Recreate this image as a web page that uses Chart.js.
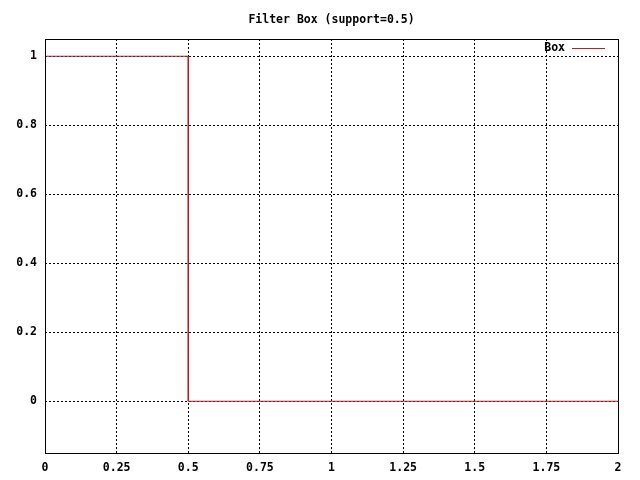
<!DOCTYPE html>
<html>
<head>
<meta charset="utf-8">
<script src="https://cdn.jsdelivr.net/npm/chart.js@4"></script>
<style>
    html, body { margin: 0; padding: 0; background: #fff; }
    #wrap { width: 640px; height: 480px; }
</style>
</head>
<body>
<div id="wrap"><canvas id="chart"></canvas></div>
<script>
var chartTitle = 'Filter Box (support=0.5)';
var seriesName = 'Box';
var boxX = [0, 0.5, 0.5, 2];
var boxY = [1, 1, 0, 0];
var xTicks = [0, 0.25, 0.5, 0.75, 1, 1.25, 1.5, 1.75, 2];
var yTicks = [0, 0.2, 0.4, 0.6, 0.8, 1];

var lineColor = '#c01c24';
var fontSpec = { family: '"DejaVu Sans Mono", monospace', size: 11.5, weight: 'bold' };

var points = boxX.map(function(x, i) {
    return { x: x, y: boxY[i] };
});

// border round the plot plus the legend in the top right corner
var framePlugin = {
    id: 'frame',
    afterDatasetsDraw: function(chart) {
        var ctx = chart.ctx;
        var a = chart.chartArea;
        ctx.save();
        ctx.strokeStyle = '#000';
        ctx.lineWidth = 1;
        ctx.strokeRect(Math.round(a.left) + 0.5, Math.round(a.top) + 0.5,
            Math.round(a.right - a.left), Math.round(a.bottom - a.top));

        ctx.font = 'bold 11.5px "DejaVu Sans Mono", monospace';
        ctx.fillStyle = '#000';
        ctx.textAlign = 'right';
        ctx.textBaseline = 'middle';
        var ly = Math.round(a.top + 9);
        var rx = Math.round(a.right);
        ctx.fillText(chart.data.datasets[0].label, rx - 53, ly);
        ctx.strokeStyle = lineColor;
        ctx.beginPath();
        ctx.moveTo(rx - 46, ly + 0.5);
        ctx.lineTo(rx - 13, ly + 0.5);
        ctx.stroke();
        ctx.restore();
    }
};

new Chart(document.getElementById('chart'), {
    type: 'line',
    data: {
        datasets: [{
            label: seriesName,
            data: points,
            borderColor: lineColor,
            borderWidth: 1,
            pointRadius: 0,
            fill: false,
            tension: 0
        }]
    },
    options: {
        responsive: true,
        maintainAspectRatio: false,
        animation: false,
        layout: { padding: { left: 0, right: 22, top: 0, bottom: 0 } },
        plugins: {
            legend: { display: false },
            tooltip: { enabled: false },
            title: {
                display: true,
                text: chartTitle,
                color: '#000',
                fullSize: false,
                font: fontSpec,
                padding: { top: 13, bottom: 12.2 }
            }
        },
        scales: {
            x: {
                type: 'linear',
                min: 0,
                max: 2,
                afterBuildTicks: function(scale) {
                    scale.ticks = xTicks.map(function(v) { return { value: v }; });
                },
                afterFit: function(scale) { scale.height = 27; },
                ticks: {
                    color: '#000',
                    font: fontSpec,
                    padding: 8,
                    maxRotation: 0,
                    callback: function(v) { return String(v); }
                },
                grid: {
                    color: '#000',
                    lineWidth: 1,
                    drawTicks: false
                },
                border: { display: false, dash: [2, 2] }
            },
            y: {
                type: 'linear',
                min: -0.15,
                max: 1.05,
                afterBuildTicks: function(scale) {
                    scale.ticks = yTicks.map(function(v) { return { value: v }; });
                },
                afterFit: function(scale) { scale.width = 45; },
                ticks: {
                    color: '#000',
                    font: fontSpec,
                    padding: 8,
                    callback: function(v) { return String(v); }
                },
                grid: {
                    color: '#000',
                    lineWidth: 1,
                    drawTicks: false
                },
                border: { display: false, dash: [2, 2] }
            }
        }
    },
    plugins: [framePlugin]
});
</script>
</body>
</html>
